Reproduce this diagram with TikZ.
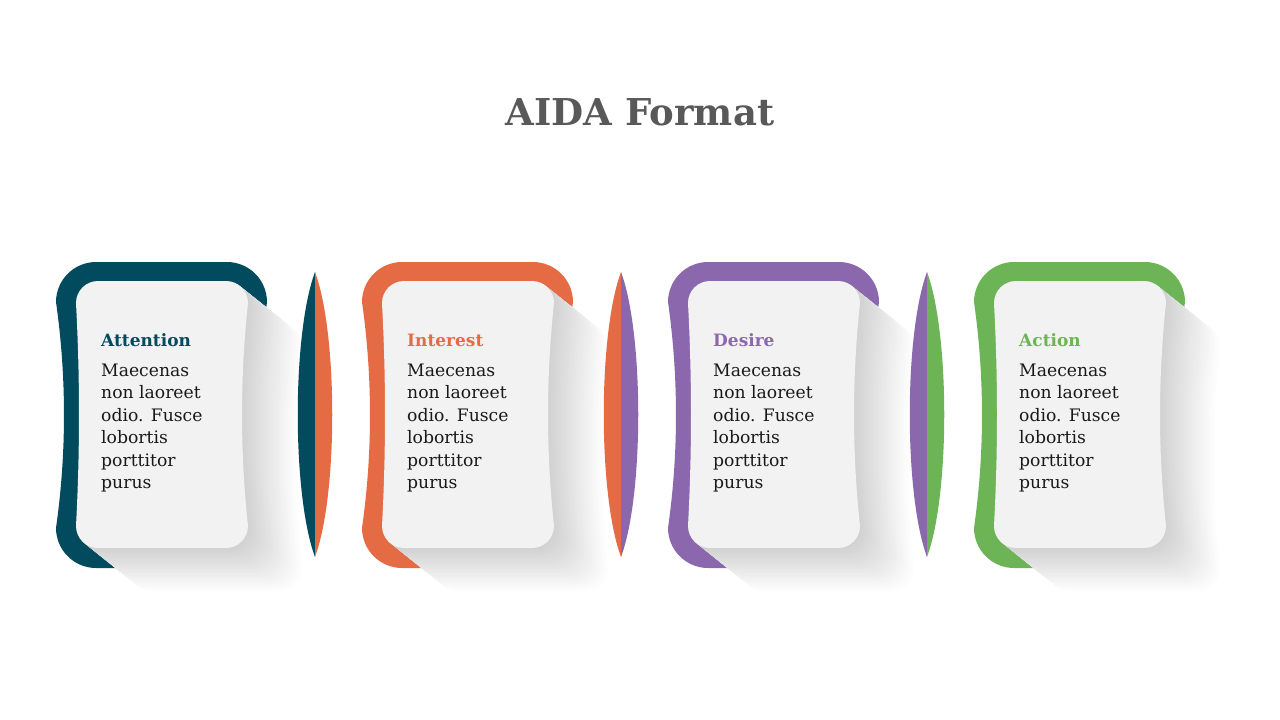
\documentclass[tikz,border=0pt]{standalone}
\usepackage{fontspec}
\setmainfont{DejaVu Serif}
\usetikzlibrary{positioning}

\definecolor{aidateal}{HTML}{024B5E}
\definecolor{aidaorange}{HTML}{E56B45}
\definecolor{aidapurple}{HTML}{8B68AD}
\definecolor{aidagreen}{HTML}{6CB456}
\definecolor{aidacard}{HTML}{F2F2F2}
\definecolor{aidatitle}{HTML}{595959}

% rounded box with bent-in sides: x0,y0,x1,y1,radius,left bow,right bow
\newcommand\bentbox[7]{(#1+#5,#2) -- (#3-#5,#2)
  .. controls (#3-0.45*#5,#2) and (#3,#2+0.45*#5) .. (#3,#2+#5)
  .. controls (#3-1.33*#7,#2+#5+75) and (#3-1.33*#7,#4-#5-75) .. (#3,#4-#5)
  .. controls (#3,#4-0.45*#5) and (#3-0.45*#5,#4) .. (#3-#5,#4)
  -- (#1+#5,#4)
  .. controls (#1+0.45*#5,#4) and (#1,#4-0.45*#5) .. (#1,#4-#5)
  .. controls (#1+1.33*#6,#4-#5-75) and (#1+1.33*#6,#2+#5+75) .. (#1,#2+#5)
  .. controls (#1,#2+0.45*#5) and (#1+0.45*#5,#2) .. cycle}

\begin{document}
\begin{tikzpicture}
    [x=1pt,y=-1pt,
    heading/.style={font=\bfseries\fontsize{17}{20}\selectfont,inner sep=0pt,anchor=base west},
    body/.style={font=\fontsize{17.2}{22.5}\selectfont,text=black!90,align=left,inner sep=0pt},
    title/.style={font=\bfseries\fontsize{37}{44}\selectfont,text=aidatitle}]

    \useasboundingbox (0,0) rectangle (1280,720);
    \node[title] (title) at (640,112) {AIDA Format};

    \foreach \i/\col/\head in {0/aidateal/Attention,1/aidaorange/Interest,
                               2/aidapurple/Desire,3/aidagreen/Action}{
      \begin{scope}[xshift=\i*306pt]
        \fill[\col] \bentbox{56}{262}{267}{568}{40}{8}{8};
        % long shadow
        \foreach \t in {55,54,...,1}{
          \pgfmathsetmacro\pct{18*(1-\t/55)}
          \fill[black!\pct,shift={(\t,0.8*\t)}] \bentbox{76}{281}{248}{548}{22}{3}{6};
        }
        \fill[aidacard] \bentbox{76}{281}{248}{548}{22}{3}{6};
        \node[heading,text=\col] (head\i) at (101,346) {\head};
        \node[body,below=17pt of head\i.south west,anchor=north west] (text\i)
          {Maecenas\\non laoreet\\odio. Fusce\\lobortis\\porttitor\\purus};
      \end{scope}
    }

    % split lenses between the cards
    \foreach \i/\lcol/\rcol in {0/aidateal/aidaorange,1/aidaorange/aidapurple,
                                2/aidapurple/aidagreen}{
      \begin{scope}[xshift=\i*306pt]
        \coordinate (top\i) at (315,272);
        \coordinate (bot\i) at (315,557);
        \fill[\lcol] (top\i) .. controls (292,334) and (292,495) .. (bot\i) -- cycle;
        \fill[\rcol] (top\i) .. controls (338,334) and (338,495) .. (bot\i) -- cycle;
      \end{scope}
    }
\end{tikzpicture}
\end{document}
